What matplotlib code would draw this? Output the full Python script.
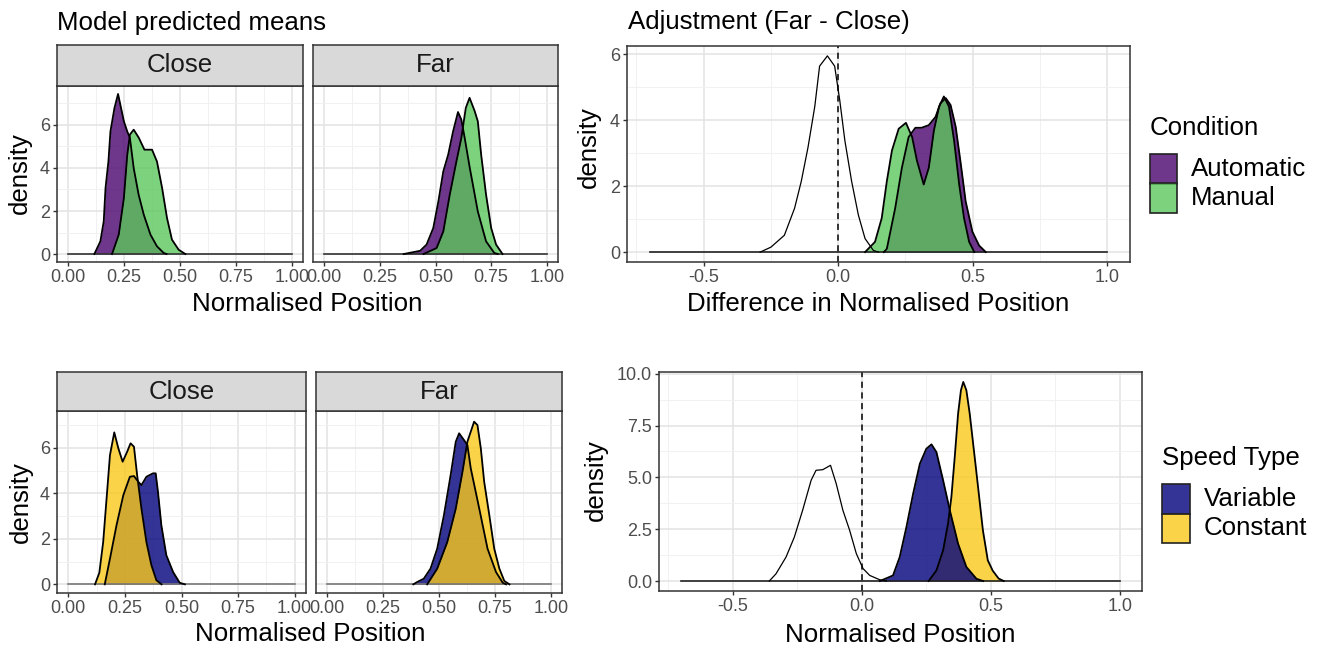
import matplotlib.pyplot as plt
from matplotlib.patches import Rectangle

plt.rcParams['font.family'] = ['Liberation Sans', 'DejaVu Sans']

W, H = 1322, 649

# ---------------- data ----------------
# Top row, facets: model predicted means, by Condition
close_auto_x = [0.117, 0.144, 0.159, 0.167, 0.180, 0.189, 0.207, 0.223, 0.249, 0.264, 0.276,
                0.293, 0.315, 0.338, 0.368, 0.397, 0.427, 0.440]
close_auto_y = [0.0, 0.59, 1.52, 3.07, 4.31, 5.7, 6.79, 7.44, 6.17, 5.7, 5.4,
                3.99, 2.76, 1.83, 0.90, 0.36, 0.05, 0.0]
close_manual_x = [0.196, 0.226, 0.249, 0.264, 0.276, 0.293, 0.316, 0.341, 0.375, 0.397,
                  0.420, 0.442, 0.464, 0.494, 0.524]
close_manual_y = [0.0, 0.90, 2.6, 4.6, 5.55, 5.78, 5.4, 4.85, 4.85, 4.3,
                  3.07, 1.67, 0.67, 0.2, 0.0]
far_auto_x = [0.357, 0.431, 0.460, 0.490, 0.513, 0.535, 0.557, 0.579, 0.601, 0.616, 0.631,
              0.654, 0.690, 0.727, 0.764, 0.780]
far_auto_y = [0.0, 0.15, 0.44, 1.21, 2.45, 3.84, 4.62, 5.7, 6.6, 6.25, 5.4,
              4.0, 1.98, 0.59, 0.05, 0.0]
far_manual_x = [0.446, 0.505, 0.535, 0.564, 0.594, 0.616, 0.636, 0.653, 0.676, 0.690,
                0.705, 0.727, 0.750, 0.772, 0.801]
far_manual_y = [0.0, 0.28, 1.05, 2.76, 4.31, 5.4, 6.79, 7.26, 6.64, 6.17,
                4.62, 2.76, 1.21, 0.44, 0.0]

# Top row, right: adjustment (Far - Close)
adj_diff_x = [-0.29, -0.25, -0.20, -0.162, -0.137, -0.112, -0.087, -0.069, -0.040, -0.013,
              0.006, 0.025, 0.050, 0.075, 0.100, 0.131, 0.150]
adj_diff_y = [0.0, 0.15, 0.51, 1.33, 2.15, 3.18, 4.41, 5.64, 5.95, 5.64,
              4.6, 3.38, 2.15, 1.13, 0.41, 0.05, 0.0]
adj_auto_x = [0.170, 0.181, 0.212, 0.237, 0.262, 0.287, 0.310, 0.337, 0.362, 0.380, 0.400,
              0.418, 0.437, 0.456, 0.474, 0.499, 0.524, 0.549]
adj_auto_y = [0.0, 0.1, 1.33, 2.56, 3.49, 3.77, 3.77, 3.85, 4.1, 4.51, 4.67,
              4.46, 3.8, 2.67, 1.54, 0.62, 0.2, 0.0]
adj_manual_x = [0.100, 0.137, 0.162, 0.181, 0.200, 0.225, 0.252, 0.275, 0.293, 0.318,
                0.337, 0.356, 0.375, 0.393, 0.412, 0.431, 0.450, 0.468, 0.487, 0.506]
adj_manual_y = [0.0, 0.31, 1.03, 2.15, 3.08, 3.74, 3.92, 3.49, 2.77, 2.05,
                2.56, 3.69, 4.41, 4.72, 4.41, 3.38, 2.05, 1.03, 0.31, 0.0]

# Bottom row, facets: by Speed Type
close_var_x = [0.161, 0.184, 0.213, 0.243, 0.272, 0.290, 0.309, 0.323, 0.345, 0.374, 0.386,
               0.396, 0.411, 0.433, 0.463, 0.492, 0.515]
close_var_y = [0.0, 1.13, 2.6, 3.92, 4.73, 4.76, 4.51, 4.36, 4.73, 4.88, 4.88,
               4.07, 2.6, 1.28, 0.54, 0.07, 0.0]
close_const_x = [0.118, 0.137, 0.154, 0.169, 0.184, 0.203, 0.221, 0.240, 0.260, 0.275, 0.290,
                 0.304, 0.323, 0.345, 0.367, 0.389, 0.412]
close_const_y = [0.0, 0.51, 1.86, 3.77, 5.68, 6.68, 5.98, 5.39, 5.83, 6.2, 6.05,
                 4.8, 3.33, 1.86, 0.84, 0.18, 0.0]
far_var_x = [0.385, 0.402, 0.432, 0.462, 0.492, 0.522, 0.552, 0.575, 0.590, 0.612, 0.627,
             0.642, 0.680, 0.717, 0.755, 0.785, 0.800]
far_var_y = [0.0, 0.1, 0.25, 0.69, 1.57, 3.04, 4.8, 6.27, 6.64, 6.34, 6.12,
             5.1, 3.33, 1.57, 0.54, 0.07, 0.0]
far_const_x = [0.447, 0.492, 0.537, 0.575, 0.605, 0.627, 0.657, 0.672, 0.687, 0.702,
               0.725, 0.747, 0.770, 0.792, 0.815]
far_const_y = [0.0, 0.69, 1.86, 3.33, 4.95, 6.27, 7.15, 7.0, 5.98, 4.51,
               3.04, 1.57, 0.69, 0.15, 0.0]

# Bottom row, right
spd_diff_x = [-0.358, -0.332, -0.293, -0.261, -0.229, -0.196, -0.177, -0.151, -0.121, -0.099,
              -0.073, -0.047, -0.021, 0.005, 0.031, 0.070, 0.096]
spd_diff_y = [0.0, 0.35, 1.16, 2.12, 3.41, 4.86, 5.34, 5.37, 5.58, 4.7,
              3.41, 2.45, 1.32, 0.6, 0.27, 0.06, 0.0]
spd_var_x = [0.070, 0.121, 0.147, 0.173, 0.199, 0.225, 0.250, 0.270, 0.289, 0.315,
             0.341, 0.373, 0.405, 0.444, 0.470]
spd_var_y = [0.0, 0.27, 1.16, 2.61, 4.22, 5.66, 6.38, 6.59, 6.22, 4.86,
             3.41, 1.8, 0.68, 0.11, 0.0]
spd_const_x = [0.259, 0.289, 0.315, 0.334, 0.347, 0.360, 0.373, 0.384, 0.393, 0.405,
               0.418, 0.443, 0.469, 0.488, 0.507, 0.530, 0.550]
spd_const_y = [0.0, 0.51, 1.48, 2.77, 4.05, 5.98, 8.07, 9.2, 9.6, 9.2,
               8.07, 5.34, 2.45, 1.0, 0.5, 0.12, 0.0]

AUTO, MANUAL = '#4A056F', '#5CC75C'
VARIABLE, CONSTANT = '#01017C', '#F9C91A'
FILL_ALPHA = 0.8

BIG = 18.6
TICK = 13

fig = plt.figure(figsize=(W / 100, H / 100), dpi=100)


def px_axes(left, top, right, bottom):
    return fig.add_axes([left / W, 1 - bottom / H, (right - left) / W, (bottom - top) / H])


def style(ax, xlim, ylim, xmaj, xmin, xlab, ymaj, ymin, ylab, show_y=True):
    ax.set_xlim(xlim)
    ax.set_ylim(ylim)
    ax.set_xticks(xmaj)
    ax.set_xticks(xmin, minor=True)
    ax.set_xticklabels(xlab)
    ax.set_yticks(ymaj)
    ax.set_yticks(ymin, minor=True)
    ax.set_yticklabels(ylab)
    ax.set_axisbelow(True)
    ax.grid(which='major', color='#E3E3E3', lw=1.1)
    ax.grid(which='minor', color='#F1F1F1', lw=0.7)
    ax.tick_params(which='minor', length=0)
    ax.tick_params(which='major', length=3, width=1, color='#333333',
                   labelcolor='#4D4D4D', labelsize=TICK, pad=2)
    if not show_y:
        ax.tick_params(axis='y', left=False, labelleft=False)
    for s in ax.spines.values():
        s.set_color('#333333')
        s.set_linewidth(1.1)


def strip(left, top, right, bottom, label):
    sa = px_axes(left, top, right, bottom)
    sa.set_facecolor('#D9D9D9')
    sa.set_xticks([])
    sa.set_yticks([])
    for s in sa.spines.values():
        s.set_color('#333333')
        s.set_linewidth(1.1)
    sa.text(0.5, 0.5, label, ha='center', va='center', fontsize=BIG, color='#1A1A1A',
            transform=sa.transAxes)


def density(ax, x, y, color, lw=1.3):
    ax.fill_between(x, y, color=color, alpha=FILL_ALPHA, lw=0)
    ax.plot(x, y, color='black', lw=lw)


def outline(ax, x, y):
    ax.plot(x, y, color='black', lw=0.9)


fac_xt = [0, 0.25, 0.5, 0.75, 1.0]
fac_xm = [0.125, 0.375, 0.625, 0.875]
fac_xl = ['0.00', '0.25', '0.50', '0.75', '1.00']
fac_yt = [0, 2, 4, 6]
fac_ym = [1, 3, 5, 7]
fac_yl = ['0', '2', '4', '6']

# ---------- top row facets ----------
panels_top = [(57, 303, 'Close', close_auto_x, close_auto_y, close_manual_x, close_manual_y),
              (313, 558, 'Far', far_auto_x, far_auto_y, far_manual_x, far_manual_y)]
for i, (l, r, lab, ax_x, ax_y, mx, my) in enumerate(panels_top):
    ax = px_axes(l, 86, r, 262)
    ax.plot([0, 1], [0, 0], color='#333333', lw=1.2)
    density(ax, ax_x, ax_y, AUTO)
    density(ax, mx, my, MANUAL)
    style(ax, (-0.05, 1.05), (-0.37, 7.81), fac_xt, fac_xm, fac_xl, fac_yt, fac_ym, fac_yl,
          show_y=(i == 0))
    strip(l, 45, r, 86, lab)

# ---------- top right ----------
ax = px_axes(627, 46, 1130, 262)
ax.plot([-0.7, 1.0], [0, 0], color='#222222', lw=1.2)
outline(ax, adj_diff_x, adj_diff_y)
density(ax, adj_auto_x, adj_auto_y, AUTO)
density(ax, adj_manual_x, adj_manual_y, MANUAL)
ax.axvline(0, color='black', lw=1.1, ls=(0, (4, 3)))
style(ax, (-0.785, 1.085), (-0.3, 6.25), [-0.5, 0, 0.5, 1.0], [-0.75, -0.25, 0.25, 0.75],
      ['-0.5', '0.0', '0.5', '1.0'], [0, 2, 4, 6], [1, 3, 5], ['0', '2', '4', '6'])

# ---------- bottom row facets ----------
panels_bot = [(57, 306, 'Close', close_var_x, close_var_y, close_const_x, close_const_y),
              (316, 562, 'Far', far_var_x, far_var_y, far_const_x, far_const_y)]
for i, (l, r, lab, vx, vy, cx, cy) in enumerate(panels_bot):
    ax = px_axes(l, 411, r, 593)
    ax.plot([0, 1], [0, 0], color='#777777', lw=1.2)
    density(ax, vx, vy, VARIABLE)
    density(ax, cx, cy, CONSTANT)
    style(ax, (-0.05, 1.05), (-0.38, 7.62), fac_xt, fac_xm, fac_xl, fac_yt, fac_ym, fac_yl,
          show_y=(i == 0))
    strip(l, 372, r, 411, lab)

# ---------- bottom right ----------
ax = px_axes(659, 372, 1142, 591)
ax.plot([-0.7, 1.0], [0, 0], color='#222222', lw=1.2)
outline(ax, spd_diff_x, spd_diff_y)
density(ax, spd_const_x, spd_const_y, CONSTANT)
density(ax, spd_var_x, spd_var_y, VARIABLE)
ax.axvline(0, color='black', lw=1.1, ls=(0, (4, 3)))
style(ax, (-0.785, 1.085), (-0.48, 10.08), [-0.5, 0, 0.5, 1.0], [-0.75, -0.25, 0.25, 0.75],
      ['-0.5', '0.0', '0.5', '1.0'], [0, 2.5, 5, 7.5, 10], [1.25, 3.75, 6.25, 8.75],
      ['0.0', '2.5', '5.0', '7.5', '10.0'])


# ---------- text ----------
def ftext(x, y, s, **kw):
    kw.setdefault('fontsize', BIG)
    kw.setdefault('color', 'black')
    fig.text(x / W, 1 - y / H, s, **kw)


ftext(57, 23, 'Model predicted means', ha='left', va='center')
ftext(628, 22, 'Adjustment (Far - Close)', ha='left', va='center')
ftext(307, 304, 'Normalised Position', ha='center', va='center')
ftext(878, 304, 'Difference in Normalised Position', ha='center', va='center')
ftext(310, 634, 'Normalised Position', ha='center', va='center')
ftext(900, 635, 'Normalised Position', ha='center', va='center')
ftext(20, 173, 'density', ha='center', va='center', rotation=90)
ftext(589, 147, 'density', ha='center', va='center', rotation=90)
ftext(21, 502, 'density', ha='center', va='center', rotation=90)
ftext(596, 480, 'density', ha='center', va='center', rotation=90)

# ---------- legends ----------
legends = [('Condition', 1150, 128, 154, ['Automatic', 'Manual'], [AUTO, MANUAL], 27, 29.5),
           ('Speed Type', 1162, 458, 484, ['Variable', 'Constant'], [VARIABLE, CONSTANT], 28, 29.5)]
for title, lx, ty, ky, labels, cols, kw, kh in legends:
    ftext(lx, ty, title, ha='left', va='center')
    for j, (lab, c) in enumerate(zip(labels, cols)):
        top = ky + j * kh
        fig.add_artist(Rectangle((lx / W, 1 - (top + kh) / H), kw / W, kh / H,
                                 facecolor=c, alpha=FILL_ALPHA, edgecolor='none',
                                 transform=fig.transFigure))
        fig.add_artist(Rectangle((lx / W, 1 - (top + kh) / H), kw / W, kh / H,
                                 facecolor='none', edgecolor='#222222', lw=1.2,
                                 transform=fig.transFigure))
        ftext(lx + kw + 14, top + kh / 2, lab, ha='left', va='center')

fig.savefig('out.png', dpi=100)
